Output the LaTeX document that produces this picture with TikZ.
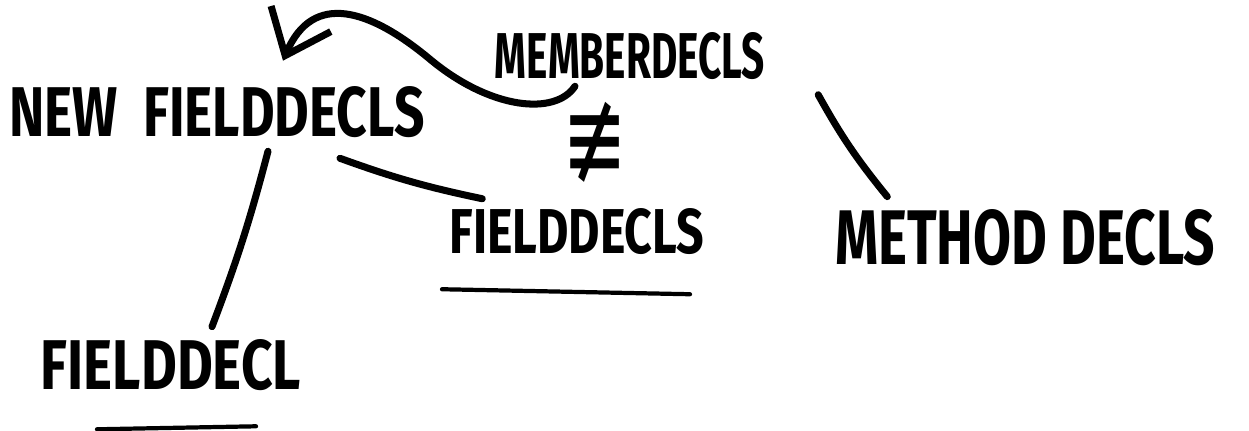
\documentclass[tikz,border=0pt]{standalone}
\usepackage{graphicx}
\usepackage{fontspec}
\newfontfamily\handfont{Fira Sans}
\newfontfamily\symbfont{DejaVu Sans}
\usetikzlibrary{arrows.meta}

% squeeze a word into the box the pen used
\newcommand{\penword}[3]{\resizebox{#1}{#2}{#3}}

\begin{document}
\begin{tikzpicture}[
  word/.style={inner sep=0pt, font=\handfont\bfseries},
  stroke/.style={line width=2pt, line cap=round, line join=round, draw=black},
  pointer/.style={stroke, -{Straight Barb[length=4mm, width=6.5mm]}},
  underline/.style={line width=1.2pt, line cap=round, draw=black}
]
  \useasboundingbox (0,0) rectangle (12.49,-4.31);

  \node[word] (memb) at (6.30,-0.56) {\penword{2.7cm}{0.46cm}{MEMBERDECLS}};
  \node[word] (newfd) at (2.17,-1.12) {\penword{4.15cm}{0.5cm}{NEW\ \ FIELDDECLS}};
  \node[inner sep=0pt, font=\symbfont\fontsize{26}{26}\selectfont] (neq) at (5.95,-1.42) {\scalebox{0.85}[1.3]{\char"2262}};
  \node[word] (fds) at (5.77,-2.32) {\penword{2.55cm}{0.45cm}{FIELDDECLS}};
  \node[word] (meth) at (10.25,-2.38) {\penword{3.8cm}{0.55cm}{METHOD DECLS}};
  \node[word] (fd) at (1.71,-3.65) {\penword{2.6cm}{0.5cm}{FIELDDECL}};

  \draw[pointer] ([xshift=-5.5mm, yshift=-0.6mm]memb.south)
    .. controls +(-0.2,-0.3) and +(0.6,-0.5) .. ++(-1.45,0.27)
    .. controls +(-0.6,0.5) and +(0.3,0.7) .. ([xshift=6.6mm, yshift=2.5mm]newfd.north);
  \draw[stroke] ([xshift=5.1mm, yshift=-1.3mm]newfd.south)
    to[bend left=3] ([xshift=4.1mm, yshift=1.2mm]fd.north);
  \draw[stroke] ([xshift=12.3mm, yshift=-2mm]newfd.south)
    to[bend right=4] ([xshift=3.35mm, yshift=0.95mm]fds.north west);
  \draw[stroke] ([xshift=5.25mm, yshift=-1.45mm]memb.south east)
    to[bend right=5] ([xshift=5.3mm, yshift=1.25mm]meth.north west);

  \draw[underline] ([xshift=-13.5mm, yshift=-3.35mm]fds.south) -- ([xshift=11.3mm, yshift=-3.85mm]fds.south);
  \draw[underline] ([xshift=-7.4mm, yshift=-3.8mm]fd.south) -- ([xshift=8.5mm, yshift=-3.5mm]fd.south);
\end{tikzpicture}
\end{document}
